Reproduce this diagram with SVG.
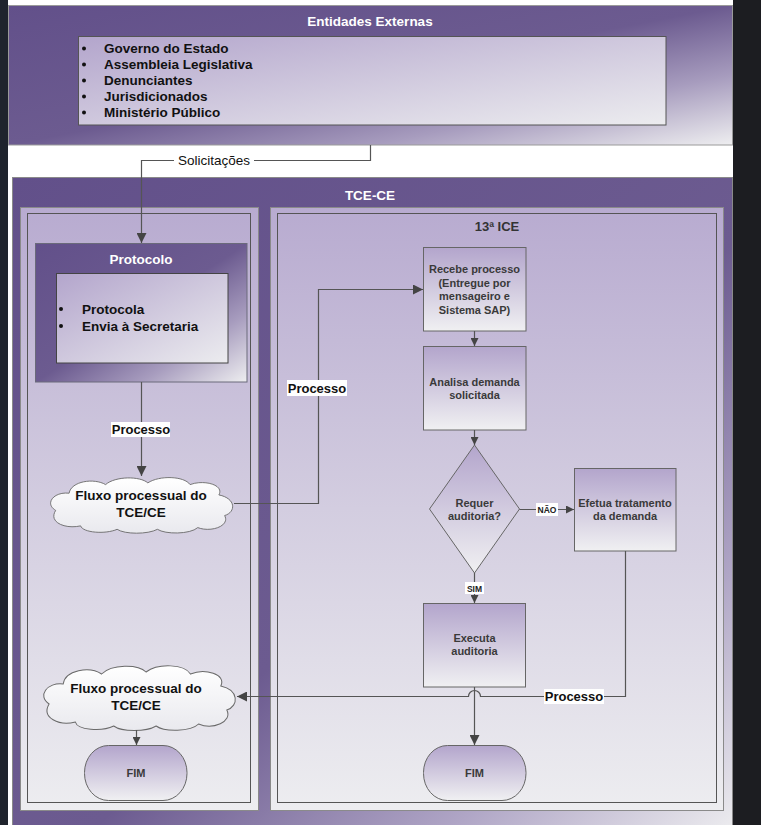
<svg xmlns="http://www.w3.org/2000/svg" width="761" height="825" viewBox="0 0 761 825">
<defs>
<style>
text{font-family:"Liberation Sans",Arial,sans-serif;font-weight:bold;}
.hdr{fill:#ffffff;font-size:13.5px;text-anchor:middle;}
.lst{fill:#111111;font-size:13.5px;}
.nd{fill:#3a3a3a;font-size:11px;text-anchor:middle;}
.lbl{fill:#111111;font-size:13px;text-anchor:middle;}
.reg{fill:#111111;font-size:13.5px;text-anchor:middle;font-weight:normal;}
.sm{fill:#222222;font-size:8.5px;text-anchor:middle;}
.box{fill:url(#gBox);stroke:#666666;stroke-width:1;}
.lane{fill:url(#gLane);}
.laneO{stroke:#8a8a8a;stroke-width:1;}
.laneI{fill:none;stroke:#555555;stroke-width:1;}
.cloud{fill:url(#gCloud);stroke:#6a6a6a;stroke-width:1;vector-effect:non-scaling-stroke;}
.con{fill:none;stroke:#555555;stroke-width:1.2;}
.lbg{fill:#ffffff;}
</style>
<linearGradient id="gBan" x1="0" y1="0" x2="1" y2="1">
<stop offset="0" stop-color="#62508a"/>
<stop offset="0.5" stop-color="#6c5b90"/>
<stop offset="0.75" stop-color="#a79cbe"/>
<stop offset="1" stop-color="#eeeef0"/>
</linearGradient>
<linearGradient id="gBig" x1="0" y1="0" x2="1" y2="1">
<stop offset="0" stop-color="#62508a"/>
<stop offset="0.55" stop-color="#6c5b90"/>
<stop offset="0.8" stop-color="#b0a6c6"/>
<stop offset="1" stop-color="#eeeef0"/>
</linearGradient>
<linearGradient id="gList" x1="0" y1="0" x2="1" y2="1">
<stop offset="0" stop-color="#b3a5cc"/>
<stop offset="1" stop-color="#ececef"/>
</linearGradient>
<linearGradient id="gLane" x1="0" y1="0" x2="0" y2="1">
<stop offset="0" stop-color="#b8abd0"/>
<stop offset="0.5" stop-color="#d3cde0"/>
<stop offset="1" stop-color="#ededf0"/>
</linearGradient>
<linearGradient id="gBox" x1="0" y1="0" x2="0" y2="1">
<stop offset="0" stop-color="#b3a5cc"/>
<stop offset="1" stop-color="#f0f0f2"/>
</linearGradient>
<linearGradient id="gCloud" x1="0" y1="0" x2="0" y2="1">
<stop offset="0" stop-color="#ffffff"/>
<stop offset="1" stop-color="#e9e9ee"/>
</linearGradient>
<path id="cloudShape" d="M8,40 C-4,32 6,18 22,20 C24,6 48,2 60,10 C70,0 96,0 104,8 C116,-1 142,0 148,10 C162,4 184,10 178,22 C196,26 196,42 184,46 C190,58 170,66 156,60 C148,68 122,68 114,62 C104,68 80,68 72,62 C60,68 36,66 34,58 C18,62 0,54 8,40 Z"/>
<marker id="arr" viewBox="0 0 10 10" refX="10" refY="5" markerWidth="11" markerHeight="10" markerUnits="userSpaceOnUse" orient="auto">
<path d="M0,0 L10,5 L0,10 Z" fill="#444444"/>
</marker>
<marker id="arrs" viewBox="0 0 10 10" refX="10" refY="5" markerWidth="8" markerHeight="8" markerUnits="userSpaceOnUse" orient="auto">
<path d="M0,0 L10,5 L0,10 Z" fill="#444444"/>
</marker>
</defs>

<rect x="0" y="0" width="761" height="825" fill="#ffffff"/>
<rect x="0" y="0" width="8" height="825" fill="#1f242d"/>
<rect x="733" y="0" width="28" height="825" fill="#1c1d21"/>

<g id="entidades-externas">
<rect x="8.5" y="5.5" width="724" height="139.5" fill="url(#gBan)" stroke="#9a9a9a" stroke-width="1"/>
<text class="hdr" x="370" y="26">Entidades Externas</text>
<rect x="78.5" y="36.5" width="587.5" height="88.5" fill="url(#gList)" stroke="#555555" stroke-width="1"/>
<circle cx="84" cy="48.5" r="2" fill="#111"/><text class="lst" x="104" y="53">Governo do Estado</text>
<circle cx="84" cy="64.5" r="2" fill="#111"/><text class="lst" x="104" y="69">Assembleia Legislativa</text>
<circle cx="84" cy="80.5" r="2" fill="#111"/><text class="lst" x="104" y="85">Denunciantes</text>
<circle cx="84" cy="96.5" r="2" fill="#111"/><text class="lst" x="104" y="101">Jurisdicionados</text>
<circle cx="84" cy="112.5" r="2" fill="#111"/><text class="lst" x="104" y="117">Ministério Público</text>
</g>

<g id="tce-ce">
<rect x="12.5" y="177.5" width="720" height="660" fill="url(#gBig)" stroke="#8a8a8a" stroke-width="1"/>
<text class="hdr" x="370" y="200" font-size="12.5">TCE-CE</text>
</g>

<g id="lane-left">
<rect class="lane laneO" x="20.5" y="207.5" width="238" height="603"/>
<rect class="laneI" x="27.5" y="213.5" width="223" height="589"/>
</g>

<g id="lane-right">
<rect class="lane laneO" x="270.5" y="207.5" width="453" height="603"/>
<rect class="laneI" x="277.5" y="213.5" width="439" height="589"/>
<text x="497" y="231" fill="#333333" font-size="13" text-anchor="middle">13ª ICE</text>
</g>

<g id="protocolo">
<rect x="35.5" y="243.5" width="211.5" height="138.5" fill="url(#gBan)" stroke="#6a6a7a" stroke-width="1"/>
<text class="hdr" x="141" y="264">Protocolo</text>
<rect x="56.5" y="273.5" width="171.5" height="89.5" fill="url(#gList)" stroke="#444444" stroke-width="1"/>
<circle cx="61" cy="309" r="2" fill="#111"/><text class="lst" x="82" y="313.5">Protocola</text>
<circle cx="61" cy="326" r="2" fill="#111"/><text class="lst" x="82" y="330.5">Envia à Secretaria</text>
</g>

<g id="fluxo-1">
<use href="#cloudShape" class="cloud" transform="translate(48,476) scale(0.96,0.86)"/>
<text class="lst" x="141" y="500" text-anchor="middle">Fluxo processual do</text>
<text class="lst" x="141" y="516.5" text-anchor="middle">TCE/CE</text>
</g>

<g id="fluxo-2">
<use href="#cloudShape" class="cloud" transform="translate(41,664) scale(1.01,1)"/>
<text class="lst" x="136" y="693" text-anchor="middle">Fluxo processual do</text>
<text class="lst" x="136" y="709.5" text-anchor="middle">TCE/CE</text>
</g>

<g id="fim-1">
<rect class="box" x="84.5" y="745.5" width="102.5" height="55" rx="24" ry="27"/>
<text class="nd" x="136" y="777">FIM</text>
</g>

<g id="recebe">
<rect class="box" x="423.5" y="247.5" width="102.5" height="83.5"/>
<text class="nd" x="474.5" y="273">Recebe processo</text>
<text class="nd" x="474.5" y="286.5">(Entregue por</text>
<text class="nd" x="474.5" y="300">mensageiro e</text>
<text class="nd" x="474.5" y="313.5">Sistema SAP)</text>
</g>

<g id="analisa">
<rect class="box" x="423.5" y="346.5" width="102.5" height="83.5"/>
<text class="nd" x="474.5" y="386">Analisa demanda</text>
<text class="nd" x="474.5" y="399">solicitada</text>
</g>

<g id="requer">
<polygon class="box" points="474.5,445 519.5,509 474.5,573 429.5,509"/>
<text class="nd" x="474.5" y="507">Requer</text>
<text class="nd" x="474.5" y="519.5">auditoria?</text>
</g>

<g id="efetua">
<rect class="box" x="574.5" y="468.5" width="101.5" height="82.5"/>
<text class="nd" x="625" y="507">Efetua tratamento</text>
<text class="nd" x="625" y="519.5">da demanda</text>
</g>

<g id="executa">
<rect class="box" x="423.5" y="603.5" width="102" height="83.5"/>
<text class="nd" x="474.5" y="642">Executa</text>
<text class="nd" x="474.5" y="655">auditoria</text>
</g>

<g id="fim-2">
<rect class="box" x="423.5" y="745.5" width="102.5" height="55" rx="24" ry="27"/>
<text class="nd" x="474.5" y="777">FIM</text>
</g>

<g id="connectors">
<path class="con" d="M370.5,145 V160.5 H141.5 V243" marker-end="url(#arr)"/>
<rect class="lbg" x="174" y="153" width="80" height="15"/>
<text class="reg" x="214" y="165">Solicitações</text>

<path class="con" d="M141.5,382 V476" marker-end="url(#arr)"/>
<rect class="lbg" x="111" y="422" width="59" height="15"/>
<text class="lbl" x="141" y="434">Processo</text>

<path class="con" d="M234,503.5 H318.5 V289.5 H423" marker-end="url(#arr)"/>
<rect class="lbg" x="287" y="380" width="60" height="16"/>
<text class="lbl" x="317" y="392.5">Processo</text>

<path class="con" d="M474.5,331 V346" marker-end="url(#arrs)"/>
<path class="con" d="M474.5,430 V445" marker-end="url(#arrs)"/>

<path class="con" d="M519.5,509.5 H574" marker-end="url(#arrs)"/>
<rect class="lbg" x="536" y="503" width="22" height="13"/>
<text class="sm" x="547" y="512.5">NÃO</text>

<path class="con" d="M474.5,573 V603" marker-end="url(#arrs)"/>
<rect class="lbg" x="465" y="582" width="19" height="12"/>
<text class="sm" x="474.5" y="591.5">SIM</text>

<path class="con" d="M625.5,551 V696.5 H480.5 A6,6 0 0 0 468.5,696.5 H237" marker-end="url(#arr)"/>
<rect class="lbg" x="544" y="689" width="60" height="15"/>
<text class="lbl" x="574" y="701">Processo</text>

<path class="con" d="M474.5,687 V745" marker-end="url(#arr)"/>
<path class="con" d="M136.5,730 V745" marker-end="url(#arrs)"/>
</g>
</svg>
